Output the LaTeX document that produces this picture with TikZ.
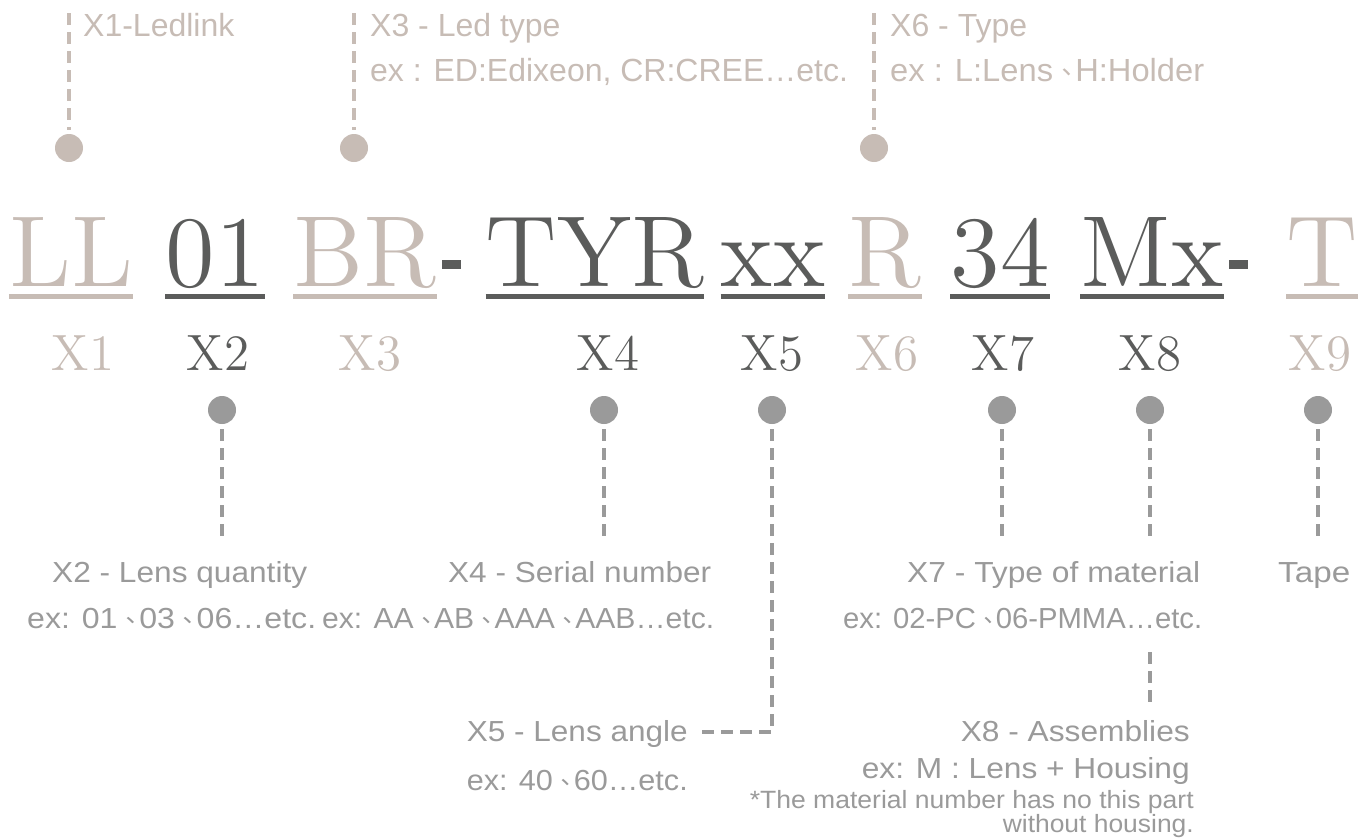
\documentclass[tikz,border=0pt]{standalone}
\usepackage{fontspec}
\usepackage{graphicx}
\newfontfamily\sansf{Liberation Sans}
\newfontfamily\cjkf{Noto Sans CJK SC}
\newfontfamily\lmten{lmroman12-regular}[Extension=.otf]
\newcommand\dun{\raisebox{0.2em}{\scalebox{0.8}{\cjkf ､}}}
\newcommand\fitw[2]{\resizebox{#1pt}{\height}{#2}}
\definecolor{taupe}{HTML}{C7BCB5}
\definecolor{dark}{HTML}{5B5C5B}
\definecolor{midg}{HTML}{9A9A9A}
\tikzset{
  big/.style={anchor=base, inner sep=0, font=\lmten\fontsize{101}{101}\selectfont},
  xlab/.style={anchor=base, inner sep=0, font=\lmten\fontsize{51}{51}\selectfont},
  toptxt/.style={anchor=base west, inner sep=0, text=taupe, font=\sansf\fontsize{32}{32}\selectfont},
  bottxt/.style={inner sep=0, text=midg, font=\sansf\fontsize{29}{29}\selectfont},
  smalltxt/.style={inner sep=0, text=midg, font=\sansf\fontsize{25}{25}\selectfont},
  tdot/.style={circle, fill=taupe, minimum size=28, inner sep=0},
  bdot/.style={circle, fill=midg, minimum size=28, inner sep=0},
  tline/.style={draw=taupe, line width=3.5, dash pattern=on 12pt off 7pt},
  bline/.style={draw=midg, line width=3.5, dash pattern=on 12pt off 7pt},
  uline/.style={line width=5},
  hyph/.style={fill=dark, minimum width=19, minimum height=9, inner sep=0},
}
\begin{document}
\begin{tikzpicture}[x=1pt,y=-1pt]
\useasboundingbox (0,0) rectangle (1363,838);

% ---- top labels
\node[toptxt] (t1) at (83,36) {X1-Ledlink};
\node[toptxt] (t3) at (370,36) {X3 - Led type};
\node[toptxt] (t3e) at (370,81) {ex : ED:Edixeon, CR:CREE…etc.};
\node[toptxt] (t6) at (890,36) {X6 - Type};
\node[toptxt] (t6e) at (890,81) {\fitw{314}{ex : L:Lens \dun H:Holder}};

\node[tdot] (d1) at (69,148) {};
\node[tdot] (d3) at (354,148) {};
\node[tdot] (d6) at (874,148) {};
\coordinate (d1t) at (69,13);
\coordinate (d3t) at (354,13);
\coordinate (d6t) at (874,13);
\draw[tline] (d1t) -- ([yshift=4pt]d1.north);
\draw[tline] (d3t) -- ([yshift=4pt]d3.north);
\draw[tline] (d6t) -- ([yshift=4pt]d6.north);

% ---- big code
\node[big, text=taupe] (LL) at (71,286) {LL};
\node[big, text=dark] (n01) at (215,286) {01};
\node[big, text=taupe] (BR) at (365,286) {BR};
\node[hyph] (h1) at (451,264) {};
\node[big, text=dark] (TYR) at (595,286) {TYR};
\node[big, text=dark] (xx) at (773,286) {xx};
\node[big, text=taupe] (R) at (885,286) {R};
\node[big, text=dark] (n34) at (1000,286) {34};
\node[big, text=dark] (Mx) at (1152,286) {Mx};
\node[hyph] (h2) at (1238,264) {};
\node[big, text=taupe] (T) at (1322,286) {T};

\foreach \n/\c in {LL/taupe,n01/dark,BR/taupe,TYR/dark,xx/dark,R/taupe,n34/dark,Mx/dark,T/taupe}
  \draw[uline, \c] ([yshift=-10pt]\n.base west) -- ([yshift=-10pt]\n.base east);

% ---- X labels
\node[xlab, text=taupe] (x1) at (83,370) {X1};
\node[xlab, text=dark] (x2) at (218,370) {X2};
\node[xlab, text=taupe] (x3) at (370,370) {X3};
\node[xlab, text=dark] (x4) at (608,370) {X4};
\node[xlab, text=dark] (x5) at (772,370) {X5};
\node[xlab, text=taupe] (x6) at (887,370) {X6};
\node[xlab, text=dark] (x7) at (1003,370) {X7};
\node[xlab, text=dark] (x8) at (1150,370) {X8};
\node[xlab, text=taupe] (x9) at (1320,370) {X9};

% ---- bottom dots and lines
\node[bdot] (b2) at (222,410) {};
\node[bdot] (b4) at (604,410) {};
\node[bdot] (b5) at (772,410) {};
\node[bdot] (b7) at (1002,410) {};
\node[bdot] (b8) at (1150,410) {};
\node[bdot] (b9) at (1318,410) {};
\coordinate (b2e) at (222,540);
\coordinate (b4e) at (604,540);
\coordinate (b7e) at (1002,540);
\coordinate (b8e) at (1150,540);
\coordinate (b9e) at (1318,540);
\coordinate (b8s) at (1150,652);
\coordinate (b8f) at (1150,705);
\coordinate (b5c) at (772,732);
\coordinate (b5l) at (697,732);
\draw[bline] ([yshift=-5pt]b2.south) -- (b2e);
\draw[bline] ([yshift=-5pt]b4.south) -- (b4e);
\draw[bline] ([yshift=-5pt]b7.south) -- (b7e);
\draw[bline] ([yshift=-5pt]b8.south) -- (b8e);
\draw[bline] ([yshift=-5pt]b9.south) -- (b9e);
\draw[bline] (b8s) -- (b8f);
\draw[bline] ([yshift=-5pt]b5.south) -- (b5c) -- (b5l);

% ---- bottom texts
\node[bottxt, anchor=base west] (l2) at (52,582) {\fitw{255}{X2 - Lens quantity}};
\node[bottxt, anchor=base west] (e2) at (27,628) {\fitw{289}{ex: 01 \dun 03 \dun 06…etc.}};
\node[bottxt, anchor=base west] (l4) at (448,582) {\fitw{263}{X4 - Serial number}};
\node[bottxt, anchor=base west] (e4) at (322,628) {\fitw{392}{ex: AA \dun AB \dun AAA \dun AAB…etc.}};
\node[bottxt, anchor=base west] (l7) at (907,582) {\fitw{293}{X7 - Type of material}};
\node[bottxt, anchor=base west] (e7) at (843,628) {\fitw{359}{ex: 02-PC \dun 06-PMMA…etc.}};
\node[bottxt, anchor=base west] (l9) at (1278,582) {\fitw{72}{Tape}};
\node[bottxt, anchor=base east] (l5) at (688,741) {\fitw{221}{X5 - Lens angle}};
\node[bottxt, anchor=base east] (e5) at (688,790) {\fitw{221}{ex: 40 \dun 60…etc.}};
\node[bottxt, anchor=base east] (l8) at (1190,741) {\fitw{229}{X8 - Assemblies}};
\node[bottxt, anchor=base east] (e8) at (1190,778) {\fitw{328}{ex: M : Lens + Housing}};
\node[smalltxt, anchor=base east] (n8a) at (1194,808) {\fitw{444}{*The material number has no this part}};
\node[smalltxt, anchor=base east] (n8b) at (1194,832) {\fitw{191}{without housing.}};
\end{tikzpicture}
\end{document}
